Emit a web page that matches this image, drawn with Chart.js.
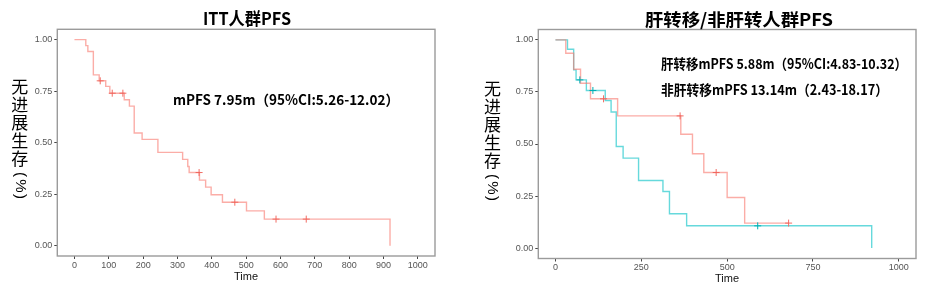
<!DOCTYPE html>
<html><head><meta charset="utf-8">
<script src="https://cdn.jsdelivr.net/npm/chart.js@4.4.0/dist/chart.umd.min.js"></script>
<style>
html,body{margin:0;padding:0;background:#fff;width:930px;height:290px;overflow:hidden}
#l{position:absolute;left:0;top:0;width:460px;height:290px}
#r{position:absolute;left:460px;top:0;width:470px;height:290px}
</style></head><body>
<div id="l"><canvas id="cl" width="460" height="290"></canvas></div>
<div id="r"><canvas id="cr" width="470" height="290"></canvas></div>
<script>
// ---------------- data ----------------
const leftTitle = 'ITT人群PFS';
const rightTitle = '肝转移/非肝转人群PFS';
const leftNote = 'mPFS 7.95m（95%CI:5.26-12.02）';
const liverNote = '肝转移mPFS 5.88m（95%CI:4.83-10.32）';
const nonLiverNote = '非肝转移mPFS 13.14m（2.43-18.17）';
const yAxisTitle = ['无','进','展','生','存'];
const yAxisParen = ['(', '%', ')'];
const xAxisTitle = 'Time';

const yTicks = [0, 0.25, 0.5, 0.75, 1];
const yTickLabels = ['0.00', '0.25', '0.50', '0.75', '1.00'];
const xTicksLeft = [0, 100, 200, 300, 400, 500, 600, 700, 800, 900, 1000];
const xTicksRight = [0, 250, 500, 750, 1000];

// ITT
const ittTime = [0, 33, 39, 55, 72, 91, 103, 145, 160, 174, 197, 243, 315, 330, 334, 364, 382, 398, 431, 501, 553, 919];
const ittSurv = [1.0, 0.971, 0.942, 0.829, 0.800, 0.773, 0.740, 0.708, 0.677, 0.547, 0.516, 0.453, 0.419, 0.384, 0.355, 0.318, 0.284, 0.247, 0.211, 0.169, 0.129, 0.0];
const ittCensorTime = [75, 110, 141, 363, 467, 587, 675];
const ittCensorSurv = [0.800, 0.740, 0.740, 0.355, 0.211, 0.129, 0.129];

// non-liver metastasis (red)
const nonLiverTime = [0, 30, 53, 73, 102, 181, 365, 399, 432, 500, 551, 680];
const nonLiverSurv = [1.0, 0.936, 0.859, 0.792, 0.717, 0.635, 0.547, 0.453, 0.363, 0.243, 0.120, 0.120];
const nonLiverCensorTime = [140, 363, 468, 679];
const nonLiverCensorSurv = [0.717, 0.635, 0.363, 0.120];

// liver metastasis (cyan)
const liverTime = [0, 35, 53, 60, 90, 145, 162, 177, 197, 242, 313, 332, 382, 921];
const liverSurv = [1.0, 0.955, 0.856, 0.808, 0.757, 0.709, 0.654, 0.488, 0.432, 0.325, 0.272, 0.165, 0.107, 0.0];
const liverCensorTime = [71, 109, 589];
const liverCensorSurv = [0.808, 0.757, 0.107];

// ---------------- helpers ----------------
const RED_LINE = 'rgba(248,118,109,0.6)';
const RED_MARK = 'rgba(240,100,92,0.95)';
const CYAN_LINE = 'rgba(0,191,196,0.6)';
const CYAN_MARK = 'rgba(0,175,180,1)';
const CJK = '"Noto Sans CJK SC", "Noto Sans", sans-serif';

function pts(t, s) { return t.map((v, i) => ({x: v, y: s[i]})); }

function lineDs(t, s, color) {
  return {type: 'line', data: pts(t, s), stepped: 'before', borderColor: color,
    borderWidth: 1.4, pointRadius: 0, fill: false, order: 2};
}
function censorDs(t, s, color) {
  return {type: 'line', data: pts(t, s), showLine: false, pointStyle: 'cross',
    pointRadius: 3.5, pointBorderColor: color, pointBorderWidth: 1, borderColor: color, order: 1};
}

// draw text at a fixed font size, squeezed horizontally to a target width
function drawSqueezed(ctx, text, font, x, y, targetW, align) {
  ctx.save();
  ctx.font = font;
  const w = ctx.measureText(text).width;
  const k = Math.min(1.15, targetW / w);
  const x0 = align === 'center' ? x - targetW / 2 : x;
  ctx.translate(x0, y);
  ctx.scale(k, 1);
  ctx.textAlign = 'left';
  ctx.fillText(text, 0, 0);
  ctx.restore();
}

const deco = {
  id: 'deco',
  beforeDatasetsDraw(chart) {
    const ctx = chart.ctx, a = chart.chartArea;
    ctx.save();
    ctx.strokeStyle = '#9b9b9b';
    ctx.lineWidth = 1.4;
    ctx.strokeRect(a.left, a.top, a.right - a.left, a.bottom - a.top);
    ctx.restore();
  },
  afterDraw(chart, args, o) {
    const ctx = chart.ctx;
    ctx.save();
    ctx.fillStyle = '#000';
    ctx.textBaseline = 'middle';
    // title
    drawSqueezed(ctx, o.title, 'bold 17.5px ' + CJK, o.titleX, o.titleY, o.titleW, 'center');
    // notes
    o.notes.forEach(n => drawSqueezed(ctx, n.text, 'bold 14px ' + CJK, n.x, n.y, n.w, 'left'));
    // y axis title (vertical)
    ctx.textAlign = 'center';
    ctx.font = '17px ' + CJK;
    yAxisTitle.forEach((c, i) => ctx.fillText(c, o.ylX, o.ylY + i * 17.8));
    ctx.font = '15px "Liberation Sans", sans-serif';
    const py = [o.ylY + 5 * 17.8 - 1.5, o.ylY + 5 * 17.8 + 10, o.ylY + 5 * 17.8 + 20.5];
    yAxisParen.forEach((c, i) => {
      ctx.save();
      ctx.translate(o.ylX, py[i]);
      ctx.rotate(Math.PI / 2);
      ctx.fillText(c, 0, 0);
      ctx.restore();
    });
    // x axis title
    ctx.font = '11px "Liberation Sans", sans-serif';
    ctx.fillStyle = '#111';
    ctx.fillText(xAxisTitle, o.xtX, o.xtY);
    ctx.restore();
  }
};

function makeChart(id, datasets, xTicks, lay, decoOpts) {
  const tickFont = {family: '"Liberation Sans", sans-serif', size: 9};
  return new Chart(document.getElementById(id), {
    type: 'line',
    data: {datasets},
    options: {
      responsive: false, animation: false, devicePixelRatio: 1,
      layout: {padding: {left: 0, top: lay.top, right: lay.right, bottom: 0}},
      plugins: {legend: {display: false}, tooltip: {enabled: false}, title: {display: false}, deco: decoOpts},
      scales: {
        x: {
          type: 'linear', min: -50, max: 1050,
          afterBuildTicks: s => { s.ticks = xTicks.map(v => ({value: v})); },
          afterFit: s => { s.height = lay.xH; },
          ticks: {font: tickFont, color: '#555', padding: 1, maxRotation: 0, autoSkip: false,
            callback: v => String(v)},
          grid: {drawOnChartArea: false, drawTicks: true, tickLength: 3, tickColor: '#444', lineWidth: 1},
          border: {display: false}
        },
        y: {
          type: 'linear', min: -0.05, max: 1.05,
          afterBuildTicks: s => { s.ticks = yTicks.map(v => ({value: v})); },
          afterFit: s => { s.width = lay.yW; },
          ticks: {font: tickFont, color: '#555', padding: 2, autoSkip: false,
            callback: v => yTickLabels[yTicks.indexOf(v)]},
          grid: {drawOnChartArea: false, drawTicks: true, tickLength: 3, tickColor: '#444', lineWidth: 1},
          border: {display: false}
        }
      }
    },
    plugins: [deco]
  });
}

makeChart('cl', [
  lineDs(ittTime, ittSurv, RED_LINE),
  censorDs(ittCensorTime, ittCensorSurv, RED_MARK)
], xTicksLeft, {top: 29.3, right: 25, xH: 34, yW: 57.3}, {
  title: leftTitle, titleX: 247, titleY: 18.5, titleW: 88,
  notes: [{text: leftNote, x: 173, y: 99.5, w: 226}],
  ylX: 19.7, ylY: 87, xtX: 246, xtY: 276.7
});

makeChart('cr', [
  lineDs(nonLiverTime, nonLiverSurv, RED_LINE),
  lineDs(liverTime, liverSurv, CYAN_LINE),
  censorDs(nonLiverCensorTime, nonLiverCensorSurv, RED_MARK),
  censorDs(liverCensorTime, liverCensorSurv, CYAN_MARK)
], xTicksRight, {top: 29.5, right: 14, xH: 31.5, yW: 78.3}, {
  title: rightTitle, titleX: 279, titleY: 19, titleW: 188,
  notes: [{text: liverNote, x: 201, y: 63.3, w: 246}, {text: nonLiverNote, x: 201, y: 90, w: 227}],
  ylX: 32.5, ylY: 89, xtX: 267, xtY: 279
});
</script>
</body></html>
